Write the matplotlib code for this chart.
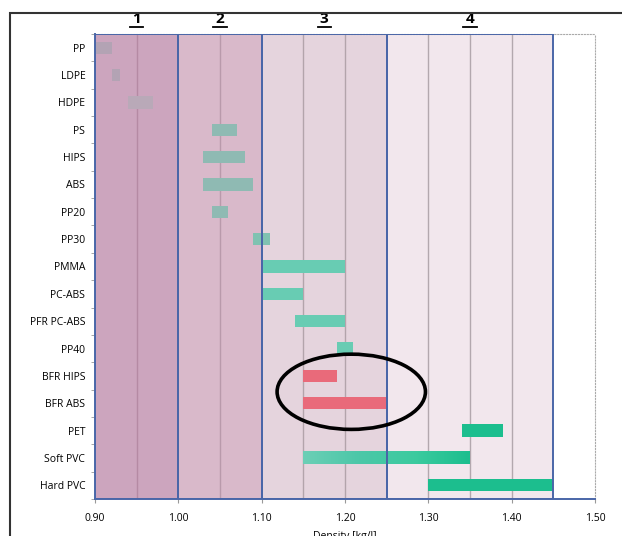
import matplotlib.pyplot as plt
import numpy as np
from matplotlib.patches import Rectangle, Ellipse
from matplotlib.colors import LinearSegmentedColormap
import matplotlib.transforms as mtransforms

plt.rcParams['font.family'] = ['Open Sans', 'DejaVu Sans']

# data
materials = ["PP", "LDPE", "HDPE", "PS", "HIPS", "ABS", "PP20", "PP30", "PMMA",
             "PC-ABS", "PFR PC-ABS", "PP40", "BFR HIPS", "BFR ABS", "PET",
             "Soft PVC", "Hard PVC"]
dens_min = [0.90, 0.92, 0.94, 1.04, 1.03, 1.03, 1.04, 1.09, 1.10,
            1.10, 1.14, 1.19, 1.15, 1.15, 1.34, 1.15, 1.30]
dens_max = [0.92, 0.93, 0.97, 1.07, 1.08, 1.09, 1.06, 1.11, 1.20,
            1.15, 1.20, 1.21, 1.19, 1.25, 1.39, 1.35, 1.45]
bar_colors = ["#b3a3b4", "#b3a3b4", "#b9a9b8", "#8fbab3", "#8fbab3", "#8fbab3",
              "#8fbab3", "#7fc2b1", "#68ccb3", "#68ccb3", "#68ccb3", "#68ccb3",
              "#e96a7a", "#e96a7a", "#1cbe8e", None, "#1cbe8e"]

region_names = ["1", "2", "3", "4"]
region_lo = [0.90, 1.00, 1.10, 1.25]
region_hi = [1.00, 1.10, 1.25, 1.45]
region_colors = ["#cca5be", "#d9b9ca", "#e5d4dd", "#f2e7ed"]
grid_colors = ["#b58aa4", "#b99aab", "#b3a4ab", "#b3a8ae"]

xticks = [0.90, 1.00, 1.10, 1.20, 1.30, 1.40, 1.50]

fig = plt.figure(figsize=(6.22, 5.36), dpi=100)
ax = fig.add_axes([0.1527, 0.069, 0.804, 0.8676])

n = len(materials)
ax.set_xlim(0.90, 1.50)
ax.set_ylim(n - 0.5, -0.5)

# regions
for lo, hi, c, gc in zip(region_lo, region_hi, region_colors, grid_colors):
    ax.add_patch(Rectangle((lo, -0.5), hi - lo, n, facecolor=c, edgecolor='none', zorder=0))
    for g in np.arange(lo + 0.05, hi - 0.01, 0.05):
        ax.axvline(g, color=gc, lw=1.0, zorder=1)
for lo, hi in zip(region_lo, region_hi):
    ax.add_patch(Rectangle((lo, -0.5), hi - lo, n, facecolor='none', edgecolor='#4a66a8',
                           lw=1.4, zorder=5))

# bars
ypos = np.arange(n)
for i in range(n):
    if bar_colors[i] is None:
        continue
    ax.barh(ypos[i], dens_max[i] - dens_min[i], left=dens_min[i], height=0.45,
            color=bar_colors[i], zorder=3)

# soft pvc gradient
i = materials.index("Soft PVC")
cmap = LinearSegmentedColormap.from_list("pvc", ["#6ccfb6", "#4cc7a8", "#3ccb9f", "#1cbe8e"])
grad = np.linspace(0, 1, 256).reshape(1, -1)
ax.imshow(grad, cmap=cmap, aspect='auto', zorder=3,
          extent=(dens_min[i], dens_max[i], ypos[i] + 0.225, ypos[i] - 0.225))
ax.set_xlim(0.90, 1.50)
ax.set_ylim(n - 0.5, -0.5)

# ellipse around BFR
ax.add_patch(Ellipse((1.2075, 12.58), 0.178, 2.75, facecolor='none', edgecolor='black',
                     lw=2.6, zorder=6))

# region labels (underlined)
trans = mtransforms.blended_transform_factory(ax.transData, ax.transAxes)
for name, lo, hi in zip(region_names, region_lo, region_hi):
    xc = (lo + hi) / 2
    ax.text(xc, 1.017, name, ha='center', va='bottom', fontsize=11, fontweight='bold',
            transform=trans)
    ax.plot([xc - 0.008, xc + 0.008], [1.014, 1.014], color='black', lw=1.3,
            transform=trans, clip_on=False)

ax.set_yticks(ypos)
ax.set_yticklabels(materials, fontsize=7.5)
ax.set_yticks(np.arange(-0.5, n, 1), minor=True)
ax.tick_params(axis='y', which='major', length=0, pad=7)
ax.tick_params(axis='y', which='minor', length=3, color='#999999')
ax.set_xticks(xticks)
ax.set_xticklabels(["%.2f" % t for t in xticks], fontsize=7.5)
ax.tick_params(axis='x', length=3, color='#999999', pad=7)
ax.set_xlabel("Density [kg/l]", fontsize=7.5, labelpad=5)

for s in ['top', 'right']:
    ax.spines[s].set_color('#aaaaaa')
    ax.spines[s].set_linestyle(':')
ax.spines['left'].set_color('#4a66a8')
ax.spines['bottom'].set_color('#4a66a8')
ax.spines['left'].set_linewidth(1.4)
ax.spines['bottom'].set_linewidth(1.4)

# outer frame
fig.add_artist(Rectangle((0.016, -0.1), 1.2, 1.076, transform=fig.transFigure,
                         facecolor='none', edgecolor='#333333', lw=1.5))

fig.savefig("out.png", dpi=100)
